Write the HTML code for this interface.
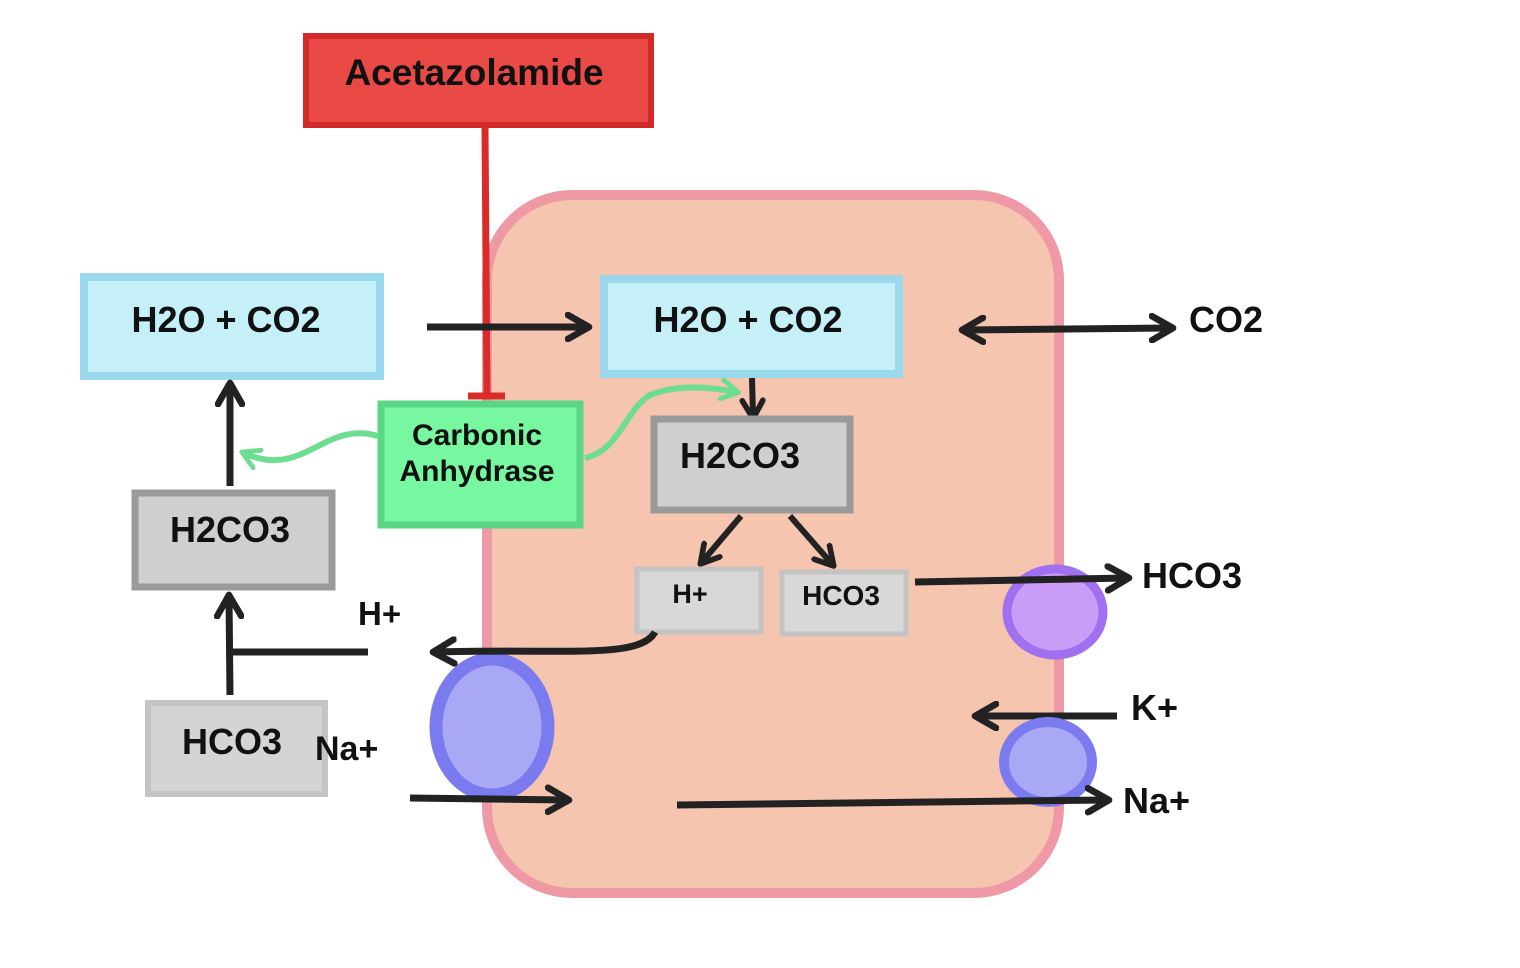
<!DOCTYPE html>
<html><head><meta charset="utf-8"><style>
html,body{margin:0;padding:0;background:#fff;}
svg{display:block}
text{font-family:"Liberation Sans",Arial,sans-serif;font-weight:bold;fill:#111}
</style></head><body>
<svg width="1520" height="968" viewBox="0 0 1520 968" xmlns="http://www.w3.org/2000/svg">
<defs>
<marker id="ah" viewBox="0 0 10 10" refX="7" refY="5" markerWidth="4.3" markerHeight="4.3" orient="auto-start-reverse">
<path d="M1,1 L8,5 L1,9" fill="none" stroke="#222" stroke-width="2.2" stroke-linecap="round" stroke-linejoin="round"/></marker>
<marker id="gh" viewBox="0 0 10 10" refX="7" refY="5" markerWidth="4" markerHeight="4" orient="auto-start-reverse">
<path d="M1,1 L8,5 L1,9" fill="none" stroke="#6dde90" stroke-width="2" stroke-linecap="round" stroke-linejoin="round"/></marker>
</defs>
<rect x="487" y="195" width="572" height="698" rx="85" fill="#f5c5b0" stroke="#ee99a5" stroke-width="10"/>
<rect x="306" y="36" width="345" height="89" fill="#e94a45" stroke="#d22a2a" stroke-width="6"/>
<text x="474" y="85" font-size="37" text-anchor="middle">Acetazolamide</text>
<line x1="485" y1="127" x2="487" y2="395" stroke="#d92c28" stroke-width="7"/>
<line x1="468" y1="396" x2="505" y2="396" stroke="#d92c28" stroke-width="7"/>
<rect x="84" y="277" width="296" height="99" fill="#c6f0f8" stroke="#9ad8ec" stroke-width="8"/>
<text x="226" y="332" font-size="36" text-anchor="middle">H2O + CO2</text>
<rect x="604" y="279" width="295" height="95" fill="#c6f0f8" stroke="#9ad8ec" stroke-width="8"/>
<text x="748" y="332" font-size="36" text-anchor="middle">H2O + CO2</text>
<line x1="427" y1="327" x2="586" y2="327" stroke="#222" stroke-width="7" marker-end="url(#ah)"/>
<line x1="965" y1="330" x2="1170" y2="328" stroke="#222" stroke-width="7" marker-start="url(#ah)" marker-end="url(#ah)"/>
<text x="1189" y="332" font-size="36">CO2</text>
<rect x="381" y="404" width="199" height="121" fill="#76f7a0" stroke="#5bd686" stroke-width="7"/>
<text x="477" y="445" font-size="30" text-anchor="middle">Carbonic</text>
<text x="477" y="481" font-size="30" text-anchor="middle">Anhydrase</text>
<path d="M378,436 C340,425 320,450 290,458 C270,463 255,458 244,453" fill="none" stroke="#6dde90" stroke-width="6" marker-end="url(#gh)"/>
<path d="M585,458 C620,450 625,410 650,395 C680,383 715,388 736,392" fill="none" stroke="#6dde90" stroke-width="6" marker-end="url(#gh)"/>
<line x1="752" y1="378" x2="753" y2="416" stroke="#222" stroke-width="6" marker-end="url(#ah)"/>
<rect x="654" y="419" width="196" height="91" fill="#cfcfcf" stroke="#9a9a9a" stroke-width="7"/>
<text x="740" y="468" font-size="36" text-anchor="middle">H2CO3</text>
<line x1="741" y1="516" x2="702" y2="562" stroke="#222" stroke-width="6" marker-end="url(#ah)"/>
<line x1="790" y1="516" x2="832" y2="564" stroke="#222" stroke-width="6" marker-end="url(#ah)"/>
<rect x="637" y="569" width="124" height="63" fill="#d8d8d8" stroke="#c4c4c4" stroke-width="5"/>
<text x="690" y="603" font-size="27" text-anchor="middle">H+</text>
<rect x="782" y="572" width="124" height="62" fill="#d8d8d8" stroke="#c4c4c4" stroke-width="5"/>
<text x="841" y="605" font-size="28" text-anchor="middle">HCO3</text>
<ellipse cx="1055" cy="612" rx="48" ry="43" fill="#c99cf7" stroke="#a070f0" stroke-width="9"/>
<line x1="915" y1="582" x2="1126" y2="578" stroke="#222" stroke-width="7" marker-end="url(#ah)"/>
<text x="1142" y="588" font-size="36">HCO3</text>
<ellipse cx="492" cy="727" rx="56" ry="68" fill="#a8a8f5" stroke="#7b7bf0" stroke-width="13"/>
<path d="M655,632 C640,660 560,648 436,652" fill="none" stroke="#222" stroke-width="7" marker-end="url(#ah)"/>
<text x="358" y="625" font-size="33">H+</text>
<rect x="135" y="493" width="197" height="94" fill="#cfcfcf" stroke="#9a9a9a" stroke-width="7"/>
<text x="230" y="542" font-size="36" text-anchor="middle">H2CO3</text>
<line x1="230" y1="486" x2="230" y2="386" stroke="#222" stroke-width="7" marker-end="url(#ah)"/>
<line x1="230" y1="695" x2="229" y2="598" stroke="#222" stroke-width="7" marker-end="url(#ah)"/>
<line x1="230" y1="652" x2="368" y2="652" stroke="#222" stroke-width="7"/>
<rect x="148" y="703" width="177" height="91" fill="#d4d4d4" stroke="#c4c4c4" stroke-width="6"/>
<text x="232" y="754" font-size="36" text-anchor="middle">HCO3</text>
<text x="315" y="760" font-size="34">Na+</text>
<line x1="410" y1="798" x2="566" y2="800" stroke="#222" stroke-width="7" marker-end="url(#ah)"/>
<line x1="1117" y1="716" x2="978" y2="716" stroke="#222" stroke-width="7" marker-end="url(#ah)"/>
<text x="1131" y="720" font-size="36">K+</text>
<ellipse cx="1048" cy="762" rx="44" ry="40" fill="#a8a8f5" stroke="#7b7bf0" stroke-width="10"/>
<line x1="677" y1="805" x2="1106" y2="800" stroke="#222" stroke-width="7" marker-end="url(#ah)"/>
<text x="1123" y="813" font-size="36">Na+</text>
</svg>
</body></html>
